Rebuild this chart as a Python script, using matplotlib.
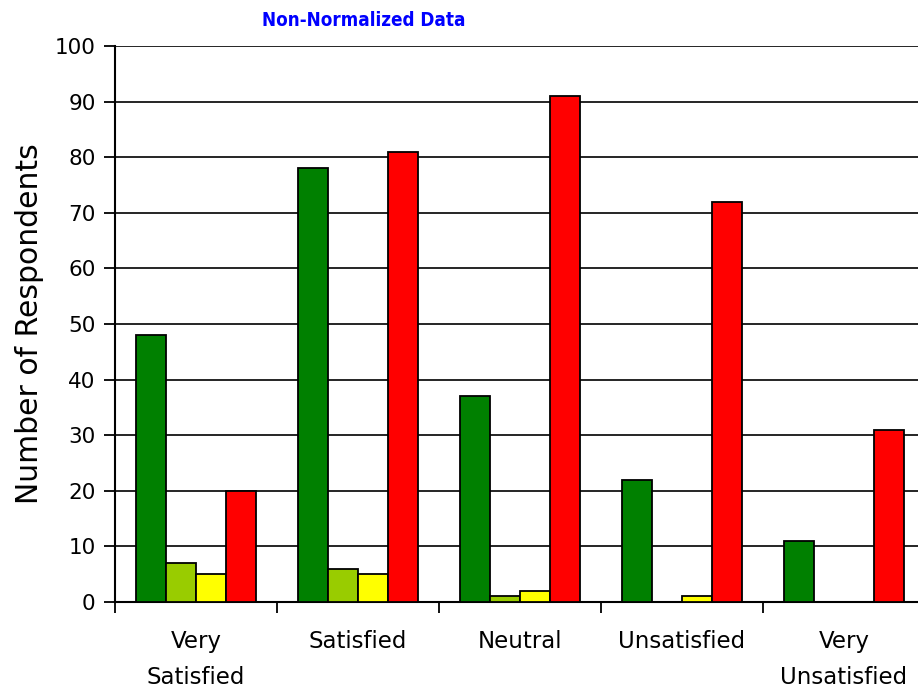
import matplotlib
matplotlib.use("Agg")
import matplotlib.pyplot as plt
import numpy as np
from matplotlib.ticker import FixedLocator

categories = ["Very\nSatisfied", "Satisfied", "Neutral", "Unsatisfied", "Very\nUnsatisfied"]
series_dark_green = [48, 78, 37, 22, 11]
series_light_green = [7, 6, 1, 0, 0]
series_yellow = [5, 5, 2, 1, 0]
series_red = [20, 81, 91, 72, 31]
yticks = list(range(0, 101, 10))

series = [series_dark_green, series_light_green, series_yellow, series_red]
colors = ["#008000", "#99CC00", "#FFFF00", "#FF0000"]

fig = plt.figure(figsize=(9.18, 6.90), dpi=100)
ax = fig.add_axes([115/918, 88/690, 810/918, 556/690])

x = np.arange(len(categories))
w = 0.185
offsets = (np.arange(4) - 1.5) * w
for vals, c, off in zip(series, colors, offsets):
    v = np.array(vals, dtype=float)
    mask = v > 0
    ax.bar(x[mask] + off, v[mask], width=w, color=c, edgecolor="black", linewidth=1.3, zorder=3)

ax.set_xlim(-0.5, len(categories) - 0.5)
ax.set_ylim(0, 100)
ax.set_yticks(yticks)
ax.yaxis.grid(True, color="black", linewidth=1.2, zorder=0)
ax.set_axisbelow(True)

ax.set_xticks(x)
ax.set_xticklabels(categories, fontsize=16.5, linespacing=1.75)
ax.xaxis.set_minor_locator(FixedLocator(np.arange(-0.5, len(categories), 1.0)))
ax.tick_params(axis="x", which="major", length=0, pad=20)
ax.tick_params(axis="x", which="minor", length=8, width=1.3, direction="out")
ax.tick_params(axis="y", which="major", length=8, width=1.3, direction="out", labelsize=15.5, pad=6)

for s in ["top", "right"]:
    ax.spines[s].set_visible(False)
for s in ["left", "bottom"]:
    ax.spines[s].set_linewidth(1.5)

ax.set_ylabel("Number of Respondents", fontsize=21.5, labelpad=8)

fig.text(364/918, 1 - 21/690, "Non-Normalized Data", color="#0000FF", fontsize=13.5,
         fontweight="bold", fontstretch="condensed", ha="center", va="center",
         family="DejaVu Sans")

fig.savefig("out.png", dpi=100)
